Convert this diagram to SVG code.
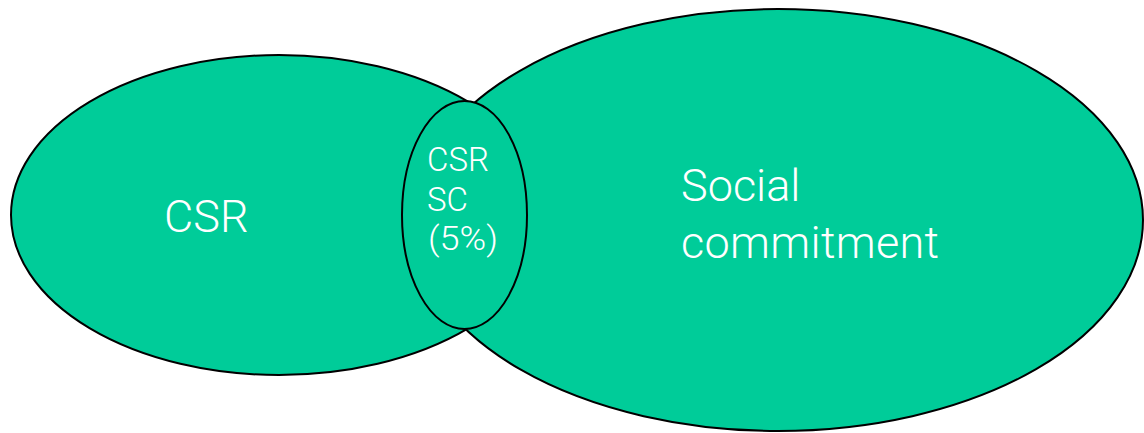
<svg xmlns="http://www.w3.org/2000/svg" width="1144" height="433" viewBox="0 0 1144 433">
  <style>
    .set { fill: #00CC99; stroke: #000000; stroke-width: 2; }
    .label { fill: #FFFFFF; font-family: Roboto, "Liberation Sans", Arial, sans-serif; font-weight: 300; }
    .big { font-size: 45px; }
    .small { font-size: 33px; }
  </style>
  <rect x="0" y="0" width="1144" height="433" fill="#FFFFFF"/>

  <!-- CSR set -->
  <g id="csr">
    <ellipse class="set" cx="279" cy="215" rx="268" ry="160"/>
    <text class="label big" x="164" y="232">CSR</text>
  </g>

  <!-- Social commitment set -->
  <g id="social-commitment">
    <ellipse class="set" cx="778" cy="220" rx="365" ry="211"/>
    <text class="label big" x="681" y="201">Social</text>
    <text class="label big" x="681" y="258" textLength="258">commitment</text>
  </g>

  <!-- Overlap of both sets -->
  <g id="overlap">
    <ellipse class="set" cx="464.5" cy="215" rx="62.5" ry="114"/>
    <text class="label small" x="427" y="171">CSR</text>
    <text class="label small" x="427" y="211">SC</text>
    <text class="label small" x="428" y="250" textLength="70" lengthAdjust="spacingAndGlyphs">(5%)</text>
  </g>

  <g id="connectors"/>
</svg>
